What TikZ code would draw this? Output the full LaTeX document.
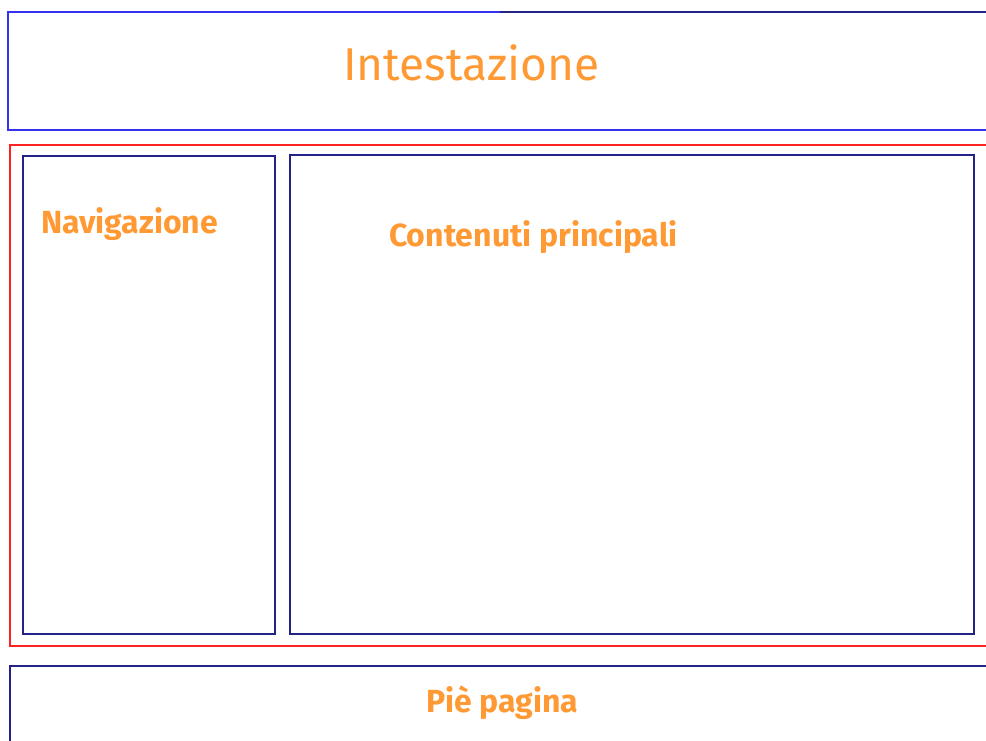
\documentclass[tikz,border=0pt]{standalone}
\usepackage{fontspec}
\setmainfont{Fira Sans}
\definecolor{lab}{HTML}{FF9933}
\definecolor{hblue}{HTML}{3333EE}
\definecolor{navy}{HTML}{222288}
\definecolor{rred}{HTML}{FF2222}
\begin{document}
\begin{tikzpicture}[x=1pt,y=-1pt,
  box/.style={line width=2.2pt},
  lbl/.style={text=lab,inner sep=0pt,font=\bfseries}]
\useasboundingbox (0,0) rectangle (986,740);
\clip (0,0) rectangle (986,740);
\draw[box,hblue] (1010,12) -- (8,12) -- (8,130) -- (1010,130);
\draw[box,navy] (500,12) -- (1010,12);
\draw[box,rred] (1010,145) -- (10,145) -- (10,646) -- (1010,646);
\draw[box,navy] (23,156) rectangle (275,634);
\draw[box,navy] (290,155) rectangle (974,634);
\draw[box,navy] (1010,666) -- (10,666) -- (10,760);
\node[lbl,font=\fontsize{46}{46}\selectfont,anchor=west] (head) at (343,63) {Intestazione};
\node[lbl,font=\bfseries\fontsize{32}{32}\selectfont,anchor=west] (nav) at (41,224) {Navigazione};
\node[lbl,font=\bfseries\fontsize{32}{32}\selectfont,anchor=west] (cont) at (389,237) {Contenuti principali};
\node[lbl,font=\bfseries\fontsize{32}{32}\selectfont,anchor=west] (foot) at (426,703) {Piè pagina};
\end{tikzpicture}
\end{document}
